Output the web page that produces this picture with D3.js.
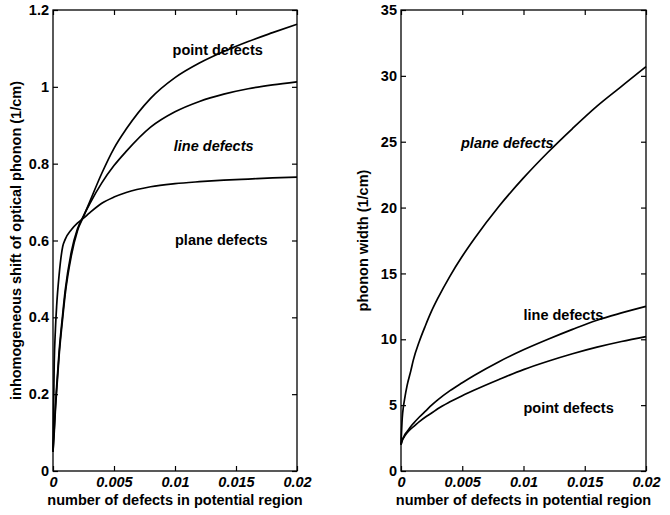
<!DOCTYPE html>
<html>
<head>
<meta charset="utf-8">
<script src="https://cdn.jsdelivr.net/npm/d3@7"></script>
<style>
  body { margin: 0; background: #fff; }
  svg { font-family: "Liberation Sans", Arial, Helvetica, sans-serif; font-weight: bold; }
</style>
</head>
<body>
<div id="chart"></div>
<script>
/* Phonon shift and width vs number of defects, two panels side by side */

// number of defects in potential region (shared x values)
const defects = [0, 0.0001, 0.0002, 0.0003, 0.0005, 0.0008, 0.001, 0.0015, 0.002, 0.0025,
                 0.003, 0.004, 0.005, 0.006, 0.008, 0.01, 0.012, 0.014, 0.016, 0.018, 0.02];

// left panel: inhomogeneous shift of optical phonon (1/cm)
const shiftPoint = [0.05, 0.1, 0.16, 0.21, 0.3, 0.40, 0.46, 0.56, 0.625, 0.662,
                    0.70, 0.775, 0.84, 0.89, 0.97, 1.024, 1.062, 1.092, 1.118, 1.141, 1.163];
const shiftLine  = [0.05, 0.11, 0.17, 0.22, 0.31, 0.41, 0.47, 0.57, 0.63, 0.664,
                    0.695, 0.75, 0.795, 0.832, 0.895, 0.935, 0.962, 0.981, 0.995, 1.005, 1.013];
const shiftPlane = [0.05, 0.28, 0.37, 0.43, 0.51, 0.585, 0.603, 0.628, 0.645, 0.658,
                    0.672, 0.697, 0.713, 0.725, 0.740, 0.748, 0.753, 0.757, 0.760, 0.763, 0.765];

// right panel: phonon width (1/cm)
const widthPoint = [2, 2.3, 2.5, 2.65, 2.9, 3.2, 3.35, 3.75, 4.1, 4.4,
                    4.72, 5.25, 5.72, 6.15, 6.95, 7.7, 8.33, 8.9, 9.4, 9.83, 10.2];
const widthLine  = [2, 2.35, 2.55, 2.75, 3.0, 3.38, 3.6, 4.1, 4.55, 5.0,
                    5.4, 6.1, 6.7, 7.27, 8.3, 9.2, 10.0, 10.75, 11.45, 12.0, 12.5];
const widthPlane = [2, 4.0, 4.9, 5.5, 6.5, 7.6, 8.4, 9.85, 11.05, 12.15,
                    13.1, 14.8, 16.3, 17.65, 20.1, 22.25, 24.2, 26.0, 27.7, 29.2, 30.7];

// tick labels
const xTicks = [0, 0.005, 0.01, 0.015, 0.02];
const shiftTicks = [0, 0.2, 0.4, 0.6, 0.8, 1, 1.2];
const widthTicks = [0, 5, 10, 15, 20, 25, 30, 35];

const width = 670, height = 515,
      plotTop = 10, plotBottom = 471;

const panels = [
    { left: 53, right: 297, yMax: 1.2, yTicks: shiftTicks,
      series: [shiftPoint, shiftLine, shiftPlane],
      yTitle: "inhomogeneous shift of optical phonon (1/cm)", yTitleX: 16,
      notes: [
          { text: "point defects", x: 0.0098, y: 1.083 },
          { text: "line defects", x: 0.0099, y: 0.833, italic: true },
          { text: "plane defects", x: 0.01, y: 0.588 }
      ] },
    { left: 401, right: 646, yMax: 35, yTicks: widthTicks,
      series: [widthPoint, widthLine, widthPlane],
      yTitle: "phonon width (1/cm)", yTitleX: 363,
      notes: [
          { text: "plane defects", x: 0.0049, y: 24.5, italic: true },
          { text: "line defects", x: 0.01, y: 11.5 },
          { text: "point defects", x: 0.01, y: 4.4 }
      ] }
];

const fmt = d => String(+d.toFixed(3)); // matlab style: 0, 0.2, 1, 0.005

let svg = d3.select("#chart")
    .append("svg")
    .attr("width", width)
    .attr("height", height);

for (let p of panels) {

    let x = d3.scaleLinear()
        .domain([0, 0.02])
        .range([p.left, p.right]);

    let y = d3.scaleLinear()
        .domain([0, p.yMax])
        .range([plotBottom, plotTop]);

    let g = svg.append("g");

    // ticks point inward on all four sides
    g.append("g")
        .attr("transform", `translate(0,${plotBottom})`)
        .call(d3.axisBottom(x).tickValues(xTicks).tickFormat(fmt).tickSize(-5).tickPadding(6))
        .call(a => a.selectAll("text").attr("font-style", "italic"));

    g.append("g")
        .attr("transform", `translate(0,${plotTop})`)
        .call(d3.axisTop(x).tickValues(xTicks).tickFormat("").tickSize(-5));

    g.append("g")
        .attr("transform", `translate(${p.left},0)`)
        .call(d3.axisLeft(y).tickValues(p.yTicks).tickFormat(fmt).tickSize(-5).tickPadding(4));

    g.append("g")
        .attr("transform", `translate(${p.right},0)`)
        .call(d3.axisRight(y).tickValues(p.yTicks).tickFormat("").tickSize(-5));

    g.selectAll(".domain").remove();
    g.selectAll(".tick line").attr("stroke", "#000").attr("stroke-width", 1.2);
    g.selectAll(".tick text")
        .attr("fill", "#000")
        .attr("font-family", "'Liberation Sans', Arial, sans-serif")
        .attr("font-weight", "bold")
        .attr("font-size", 14.5);

    // frame
    g.append("rect")
        .attr("x", p.left)
        .attr("y", plotTop)
        .attr("width", p.right - p.left)
        .attr("height", plotBottom - plotTop)
        .attr("fill", "none")
        .attr("stroke", "#000")
        .attr("stroke-width", 1.3);

    let line = d3.line()
        .x((d, i) => x(defects[i]))
        .y(d => y(d))
        .curve(d3.curveMonotoneX);

    g.selectAll(".curve")
        .data(p.series)
        .join("path")
        .attr("class", "curve")
        .attr("fill", "none")
        .attr("stroke", "#000")
        .attr("stroke-width", 1.7)
        .attr("d", line);

    g.selectAll(".note")
        .data(p.notes)
        .join("text")
        .attr("class", "note")
        .attr("x", d => x(d.x))
        .attr("y", d => y(d.y))
        .attr("font-size", 14.5)
        .attr("font-style", d => d.italic ? "italic" : "normal")
        .text(d => d.text);

    g.append("text")
        .attr("x", (p.left + p.right) / 2)
        .attr("y", 505)
        .attr("text-anchor", "middle")
        .attr("font-size", 14.5)
        .text("number of defects in potential region");

    g.append("text")
        .attr("transform", `translate(${p.yTitleX},${(plotTop + plotBottom) / 2}) rotate(-90)`)
        .attr("text-anchor", "middle")
        .attr("dy", "0.35em")
        .attr("font-size", 14.5)
        .text(p.yTitle);
}
</script>
</body>
</html>
